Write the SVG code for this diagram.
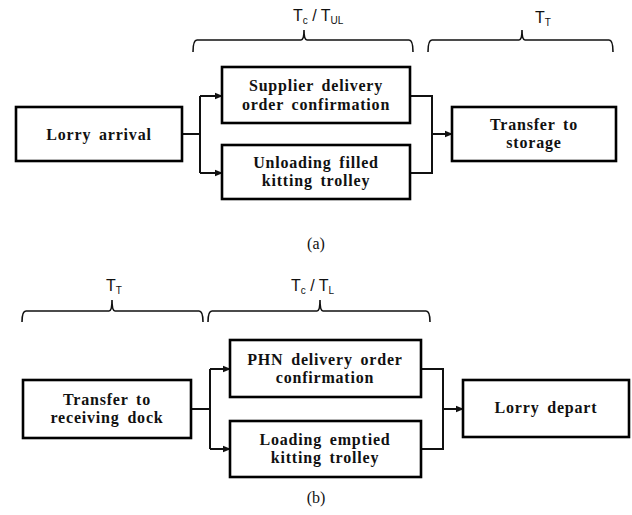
<svg xmlns="http://www.w3.org/2000/svg" width="632" height="515" viewBox="0 0 632 515">
<style>
.box{fill:#fff;stroke:#000;stroke-width:2.6}
.lbl{font-weight:bold;font-size:16px;letter-spacing:0.8px;word-spacing:3px;text-anchor:middle;fill:#111}
.cap{font-size:16px;text-anchor:middle;fill:#111}
.t{font-size:16px;fill:#111}
.sub{font-size:10px}
.br{fill:none;stroke:#111;stroke-width:1.6}
.ln{fill:none;stroke:#111;stroke-width:2}
</style>
<defs>
<marker id="ah" markerWidth="8" markerHeight="8" refX="7" refY="4" orient="auto" markerUnits="userSpaceOnUse">
<path d="M0,0.8 L8,4 L0,7.2 Z" fill="#111"/>
</marker>
</defs>
<rect width="632" height="515" fill="#fff"/>

<g id="braces">
<path class="br" d="M193,52 Q193,40 197,40 L301,40 Q304,40 304,30 Q304,40 307,40 L409,40 Q413,40 413,52"/>
<path class="br" d="M428,52 Q428,40 432,40 L519,40 Q522,40 522,30 Q522,40 525,40 L609,40 Q613,40 613,52"/>
<path class="br" d="M22,322 Q22,311 26,311 L109,311 Q112,311 112,300 Q112,311 115,311 L199,311 Q203,311 203,322"/>
<path class="br" d="M208,322 Q208,311 212,311 L317,311 Q320,311 320,300 Q320,311 323,311 L426,311 Q430,311 430,322"/>
</g>

<g id="brace-labels" font-family="Liberation Sans, Arial, sans-serif">
<text class="t" x="293" y="21">T<tspan class="sub" dy="3">c</tspan><tspan dy="-3"> / T</tspan><tspan class="sub" dy="3">UL</tspan></text>
<text class="t" x="535" y="23">T<tspan class="sub" dy="3">T</tspan></text>
<text class="t" x="106" y="291">T<tspan class="sub" dy="3">T</tspan></text>
<text class="t" x="291" y="291">T<tspan class="sub" dy="3">c</tspan><tspan dy="-3"> / T</tspan><tspan class="sub" dy="3">L</tspan></text>
</g>

<g id="connectors">
<path class="ln" d="M182,134 L200,134"/>
<path class="ln" d="M200,96 L200,173"/>
<path class="ln" marker-end="url(#ah)" d="M200,96 L222,96"/>
<path class="ln" marker-end="url(#ah)" d="M200,173 L222,173"/>
<path class="ln" d="M410,96 L432,96 L432,173 L410,173"/>
<path class="ln" marker-end="url(#ah)" d="M432,134 L452,134"/>

<path class="ln" d="M191,409 L210,409"/>
<path class="ln" d="M210,369 L210,449"/>
<path class="ln" marker-end="url(#ah)" d="M210,369 L230,369"/>
<path class="ln" marker-end="url(#ah)" d="M210,449 L230,449"/>
<path class="ln" d="M421,369 L443,369 L443,449 L421,449"/>
<path class="ln" marker-end="url(#ah)" d="M443,409 L463,409"/>
</g>

<g font-family="Liberation Serif, Times New Roman, serif">
<g id="lorry-arrival">
<rect class="box" x="16" y="107" width="166" height="54"/>
<text class="lbl" x="99" y="140">Lorry arrival</text>
</g>
<g id="supplier-confirmation">
<rect class="box" x="222" y="67" width="188" height="56"/>
<text class="lbl" x="316" y="91">Supplier delivery</text>
<text class="lbl" x="316" y="110">order confirmation</text>
</g>
<g id="unloading">
<rect class="box" x="222" y="145" width="188" height="54"/>
<text class="lbl" x="316" y="168">Unloading filled</text>
<text class="lbl" x="316" y="186">kitting trolley</text>
</g>
<g id="transfer-storage">
<rect class="box" x="452" y="107" width="164" height="54"/>
<text class="lbl" x="534" y="130">Transfer to</text>
<text class="lbl" x="534" y="148">storage</text>
</g>
<text class="cap" x="316" y="249">(a)</text>

<g id="transfer-dock">
<rect class="box" x="23" y="380" width="168" height="58"/>
<text class="lbl" x="107" y="405">Transfer to</text>
<text class="lbl" x="107" y="423">receiving dock</text>
</g>
<g id="phn-confirmation">
<rect class="box" x="230" y="340" width="191" height="57"/>
<text class="lbl" x="325" y="365">PHN delivery order</text>
<text class="lbl" x="325" y="383">confirmation</text>
</g>
<g id="loading">
<rect class="box" x="230" y="421" width="191" height="56"/>
<text class="lbl" x="325" y="445">Loading emptied</text>
<text class="lbl" x="325" y="463">kitting trolley</text>
</g>
<g id="lorry-depart">
<rect class="box" x="463" y="380" width="166" height="57"/>
<text class="lbl" x="546" y="413">Lorry depart</text>
</g>
<text class="cap" x="316" y="503">(b)</text>
</g>
</svg>
